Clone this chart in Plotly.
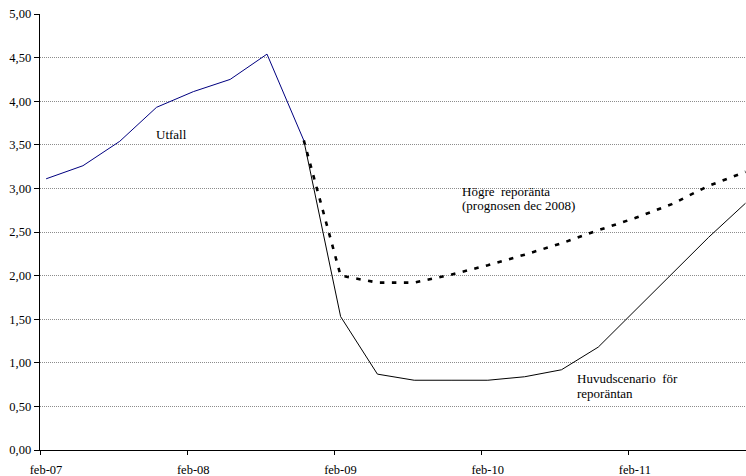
import plotly.graph_objects as go

# ---------------- data ----------------
outcome_dates = ["2007-02", "2007-05", "2007-08", "2007-11",
                 "2008-02", "2008-05", "2008-08", "2008-11"]
outcome_values = [3.11, 3.26, 3.54, 3.93, 4.11, 4.25, 4.54, 3.55]

forecast_dates = ["2008-11", "2009-02", "2009-05", "2009-08", "2009-11",
                  "2010-02", "2010-05", "2010-08", "2010-11",
                  "2011-02", "2011-05", "2011-08", "2011-11"]
main_values = [3.55, 1.53, 0.87, 0.80, 0.80, 0.80, 0.84, 0.92, 1.18,
               1.60, 2.02, 2.44, 2.83]
higher_values = [3.55, 2.00, 1.92, 1.92, 2.01, 2.12, 2.24, 2.37, 2.52,
                 2.66, 2.82, 3.03, 3.19]

x_tick_dates = ["2007-02", "2008-02", "2009-02", "2010-02", "2011-02"]
x_tick_labels = ["feb-07", "feb-08", "feb-09", "feb-10", "feb-11"]
y_tick_values = [0, 0.5, 1.0, 1.5, 2.0, 2.5, 3.0, 3.5, 4.0, 4.5, 5.0]
y_tick_labels = ["0,00", "0,50", "1,00", "1,50", "2,00", "2,50",
                 "3,00", "3,50", "4,00", "4,50", "5,00"]

label_outcome = "Utfall"
label_higher = ["Högre\u00a0 reporänta", "(prognosen dec 2008)"]
label_main = ["Huvudscenario\u00a0 för", "reporäntan"]


def month_index(d):
    y, m = d.split("-")
    return (int(y) - 2007) * 12 + (int(m) - 2)


x_out = [month_index(d) for d in outcome_dates]
x_fc = [month_index(d) for d in forecast_dates]
tick_pos = [month_index(d) - 0.5 for d in x_tick_dates]

FONT = "Liberation Serif"
tick_font = dict(family=FONT, size=12.5, color="black")

fig = go.Figure()
fig.add_trace(go.Scatter(x=x_fc, y=higher_values, mode="lines",
                         line=dict(color="black", width=2.6, dash="4.5px,7.5px"),
                         hoverinfo="skip"))
fig.add_trace(go.Scatter(x=x_fc, y=main_values, mode="lines",
                         line=dict(color="black", width=1),
                         hoverinfo="skip"))
fig.add_trace(go.Scatter(x=x_out, y=outcome_values, mode="lines",
                         line=dict(color="#000080", width=1),
                         hoverinfo="skip"))

# white text boxes hiding gridlines
fig.add_shape(type="rect", xref="paper", yref="y", layer="between",
              x0=0.589, x1=0.8144, y0=2.75, y1=3.30,
              line=dict(width=0), fillcolor="white")
fig.add_shape(type="rect", xref="paper", yref="y", layer="between",
              x0=0.755, x1=0.952, y0=0.30, y1=0.75,
              line=dict(width=0), fillcolor="white")

ann_font = dict(family=FONT, size=13, color="black")
fig.add_annotation(text=label_outcome, xref="paper", yref="paper",
                   x=0.161, y=0.7225, xanchor="left", yanchor="middle",
                   showarrow=False, font=ann_font)
for i, t in enumerate(label_higher):
    fig.add_annotation(text=t, xref="paper", yref="paper",
                       x=0.5955, y=0.5935 - i * 0.0335, xanchor="left",
                       yanchor="middle", showarrow=False, font=ann_font)
for i, t in enumerate(label_main):
    fig.add_annotation(text=t, xref="paper", yref="paper",
                       x=0.7575, y=0.1645 - i * 0.0345, xanchor="left",
                       yanchor="middle", showarrow=False, font=ann_font)

fig.update_layout(
    width=746, height=476,
    margin=dict(l=40, r=0, t=14, b=26),
    paper_bgcolor="white", plot_bgcolor="white",
    showlegend=False,
    font=dict(family=FONT, size=12.5, color="black"),
    hovermode=False,
)
fig.update_xaxes(
    range=[-0.5, 57.04],
    tickmode="array", tickvals=tick_pos, ticktext=x_tick_labels,
    tickfont=tick_font,
    ticklabelshift=6, ticklabelstandoff=4,
    ticks="outside", ticklen=4, tickcolor="black", tickwidth=1,
    showline=True, linecolor="black", linewidth=1.3,
    showgrid=False, zeroline=False,
)
fig.update_yaxes(
    range=[0, 5],
    tickmode="array", tickvals=y_tick_values, ticktext=y_tick_labels,
    tickfont=tick_font,
    ticks="outside", ticklen=5, tickcolor="black", tickwidth=1,
    showline=True, linecolor="black", linewidth=1.3,
    showgrid=True, gridcolor="#8c8c8c", gridwidth=1, griddash="1px,1px",
    zeroline=False,
)

fig.write_html("out.html",
               config={"displayModeBar": False, "staticPlot": True},
               post_script="document.body.style.margin='0px';document.body.style.overflow='hidden';")
